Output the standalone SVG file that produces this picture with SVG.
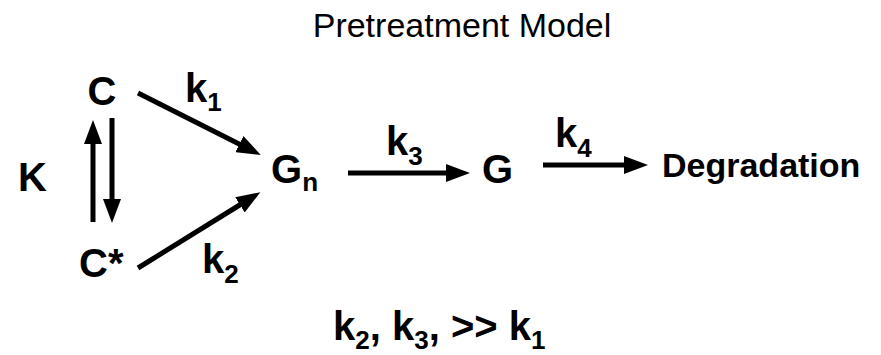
<svg xmlns="http://www.w3.org/2000/svg" width="881" height="355" viewBox="0 0 881 355">
<style>
.t{font-family:"Liberation Sans",Arial,sans-serif;fill:#000}
.b{font-weight:bold;font-size:40px}
.d{font-weight:bold;font-size:34px}
.k{font-weight:bold;font-size:40px}
.s{font-size:26px}
.title{font-size:34px}
.c{fill:none;stroke:#000;stroke-width:5}
</style>
<defs>
<marker id="ah" viewBox="0 0 24 18" markerUnits="userSpaceOnUse" markerWidth="24" markerHeight="18" refX="13" refY="9" orient="auto">
<path d="M0,0 L24,9 L0,18 z" fill="#000"/>
</marker>
</defs>
<rect width="881" height="355" fill="#fff"/>
<text class="t title" x="462" y="37" text-anchor="middle">Pretreatment Model</text>
<g id="connectors">
<path class="c" d="M138,93 L251,150" marker-end="url(#ah)"/>
<path class="c" d="M138,268 L251,198" marker-end="url(#ah)"/>
<path class="c" d="M93,222 L93,131" marker-end="url(#ah)"/>
<path class="c" d="M112,118 L112,212" marker-end="url(#ah)"/>
<path class="c" d="M348,173 L459,173" marker-end="url(#ah)"/>
<path class="c" d="M543,165 L637,165" marker-end="url(#ah)"/>
</g>
<g id="C"><text class="t b" x="102" y="105" text-anchor="middle">C</text></g>
<g id="Cstar"><text class="t b" x="79" y="277">C*</text></g>
<g id="K"><text class="t b" x="18" y="191">K</text></g>
<g id="Gn"><text class="t b" x="271" y="183">G<tspan class="s" dy="8">n</tspan></text></g>
<g id="G"><text class="t b" x="482" y="183">G</text></g>
<g id="Degradation"><text class="t d" x="662" y="177">Degradation</text></g>
<g id="k1"><text class="t k" x="185" y="102">k<tspan class="s" dy="9">1</tspan></text></g>
<g id="k2"><text class="t k" x="202" y="273">k<tspan class="s" dy="10">2</tspan></text></g>
<g id="k3"><text class="t k" x="386" y="155">k<tspan class="s" dy="10">3</tspan></text></g>
<g id="k4"><text class="t k" x="555" y="147">k<tspan class="s" dy="10">4</tspan></text></g>
<g id="rel"><text class="t k" x="333" y="340">k<tspan class="s" dy="9">2</tspan><tspan dy="-9">, k</tspan><tspan class="s" dy="9">3</tspan><tspan dy="-9">, &gt;&gt; k</tspan><tspan class="s" dy="9">1</tspan></text></g>
</svg>
